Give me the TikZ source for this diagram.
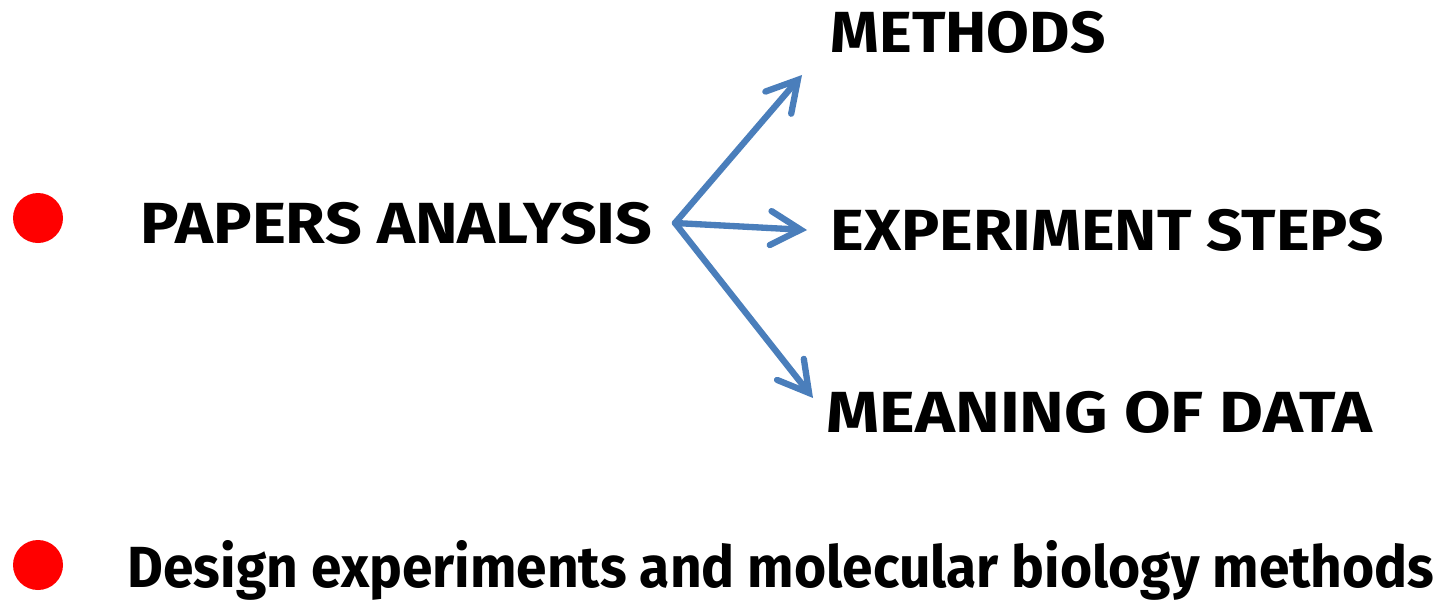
\documentclass[tikz,border=0pt]{standalone}
\usepackage{fontspec}
\setmainfont{Fira Sans}
\usepackage{tikz}
\usetikzlibrary{arrows.meta, positioning}
\definecolor{arrowblue}{RGB}{74,126,187}

\begin{document}
\begin{tikzpicture}[
        item/.style={anchor=base west, inner sep=0pt, font=\bfseries\fontsize{16.5}{18}\selectfont},
        bullet/.style={circle, fill=red, inner sep=0pt, minimum size=0.5cm},
        arr/.style={-{Straight Barb[length=3mm, width=3.4mm, line cap=round]}, line width=1.8pt, line cap=round, arrowblue}
    ]
        \useasboundingbox (0, 0) rectangle (14.36, 6);

        % Bullets
        \node[bullet] (dot1) at (0.38, 3.82) {};
        \node[bullet] (dot2) at (0.38, 0.35) {};

        % Papers analysis and its branches
        \node[item] (papers) at (1.40, 3.57) {\scalebox{1.11}[1]{PAPERS ANALYSIS}};
        \node[item] (methods) at (8.30, 5.48) {\scalebox{1.07}[1]{METHODS}};
        \node[item] (steps) at (8.30, 3.50) {\scalebox{1.10}[1]{EXPERIMENT STEPS}};
        \node[item] (meaning) at (8.26, 1.68) {\scalebox{1.165}[1]{MEANING OF DATA}};

        \coordinate (hub) at (6.75, 3.77);
        \coordinate (tipM) at (8.02, 5.25);
        \coordinate (tipS) at (8.07, 3.70);
        \coordinate (tipD) at (8.13, 2.02);
        \draw[arr] (hub) -- (tipM);
        \draw[arr] (hub) -- (tipS);
        \draw[arr] (hub) -- (tipD);

        % Second point
        \node[item] (design) at (1.27, 0.13) {\scalebox{0.95}[1]{Design experiments and molecular biology methods}};
    \end{tikzpicture}
\end{document}
